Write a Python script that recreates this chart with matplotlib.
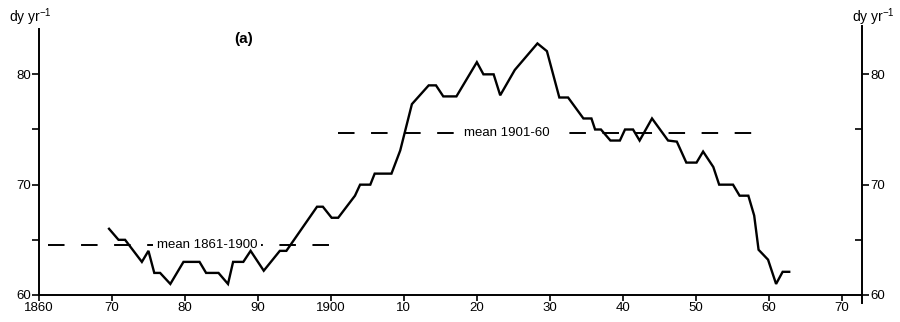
import matplotlib.pyplot as plt
import numpy as np

plt.rcParams["font.family"] = ["Liberation Sans", "DejaVu Sans"]
plt.rcParams["mathtext.fontset"] = "custom"
plt.rcParams["mathtext.rm"] = "Liberation Sans"

# yearly curve
years = [1869.6, 1870.9, 1871.8, 1874.1, 1875.0, 1875.8, 1876.6, 1878.0, 1879.8, 1882.0,
         1882.9, 1884.6, 1885.9, 1886.6, 1888.0, 1889.0, 1890.8, 1893.0, 1893.9, 1898.1,
         1898.9, 1900.1, 1901.0, 1903.3, 1904.0, 1905.4, 1906.0, 1908.3, 1909.5, 1911.1,
         1913.4, 1914.4, 1915.4, 1917.2, 1920.0, 1920.9, 1922.3, 1923.2, 1925.2, 1928.3,
         1929.6, 1931.3, 1932.5, 1934.6, 1935.7, 1936.2, 1937.0, 1938.3, 1939.6, 1940.3,
         1941.4, 1942.3, 1944.0, 1946.2, 1947.4, 1948.7, 1950.1, 1951.0, 1952.4, 1953.2,
         1955.1, 1956.0, 1957.2, 1958.0, 1958.6, 1959.9, 1961.0, 1961.9, 1962.8]
values = [66, 65, 65, 63, 64, 62, 62, 61, 63, 63,
          62, 62, 61, 63, 63, 64, 62.2, 64, 64, 68,
          68, 67, 67, 69, 70, 70, 71, 71, 73.1, 77.3,
          79, 79, 78, 78, 81.1, 80, 80, 78.1, 80.4, 82.8,
          82.1, 77.9, 77.9, 76, 76, 75, 75, 74, 74, 75,
          75, 74, 76, 74, 73.9, 72, 72, 73, 71.6, 70,
          70, 69, 69, 67.2, 64.1, 63.2, 61.0, 62.1, 62.1]

# period means
mean_labels = ["mean 1861-1900", "mean 1901-60"]
mean_start = [1861.2, 1901.0]
mean_end = [1900.0, 1957.9]
mean_value = [64.5, 74.7]
mean_text_x = [1883.0, 1924.1]

xticks = [1860, 1870, 1880, 1890, 1900, 1910, 1920, 1930, 1940, 1950, 1960, 1970]
xticklabels = ["1860", "70", "80", "90", "1900", "10", "20", "30", "40", "50", "60", "70"]
yticks = [60, 70, 80]
yminor = [65, 75]

fig = plt.figure(figsize=(9, 3.22), dpi=100)
ax = fig.add_axes([0.0433, 0.0839, 0.9147, 0.836])

ax.plot(years, values, color="black", lw=1.7, solid_joinstyle="miter", zorder=5)

for lab, x0, x1, v, tx in zip(mean_labels, mean_start, mean_end, mean_value, mean_text_x):
    ax.plot([x0, x1], [v, v], color="black", lw=1.4, dashes=(8.5, 8.5), zorder=2)
    ax.text(tx, v, lab, ha="center", va="center", fontsize=9.5, zorder=3,
            bbox=dict(facecolor="white", edgecolor="none", pad=2.5))

ax.text(1888.0, 83.2, "(a)", ha="center", va="center", fontsize=11, fontweight="bold")

ax.set_xlim(1860, 1972.8)
ax.set_ylim(60, 84.4)

ax.set_xticks(xticks)
ax.set_xticklabels(xticklabels, fontsize=9.5)
ax.set_yticks(yticks)
ax.set_yticks(yminor, minor=True)
ax.set_yticklabels([str(t) for t in yticks], fontsize=9.5)
ax.tick_params(axis="x", direction="out", length=4, width=1.2, pad=1)
ax.tick_params(axis="y", which="both", direction="out", length=5, width=1.2, pad=1)

for s in ["top", "right"]:
    ax.spines[s].set_visible(False)
ax.spines["left"].set_bounds(60, 84.1)
for s in ["left", "bottom"]:
    ax.spines[s].set_linewidth(1.4)

ax2 = ax.twinx()
ax2.set_ylim(60, 84.4)
ax2.set_yticks(yticks)
ax2.set_yticks(yminor, minor=True)
ax2.set_yticklabels([str(t) for t in yticks], fontsize=9.5)
ax2.tick_params(axis="y", which="major", direction="out", length=5, width=1.2, pad=1)
ax2.tick_params(axis="y", which="minor", direction="in", length=5, width=1.2)
for s in ["top", "left", "bottom"]:
    ax2.spines[s].set_visible(False)
ax2.spines["right"].set_bounds(59.3, 84.4)
ax2.spines["right"].set_linewidth(1.4)

fig.text(30 / 900, 1 - 17 / 322, r"dy yr$^{-1}$", ha="center", va="center", fontsize=10)
fig.text(873 / 900, 1 - 17 / 322, r"dy yr$^{-1}$", ha="center", va="center", fontsize=10)

fig.savefig("out.png", dpi=100)
